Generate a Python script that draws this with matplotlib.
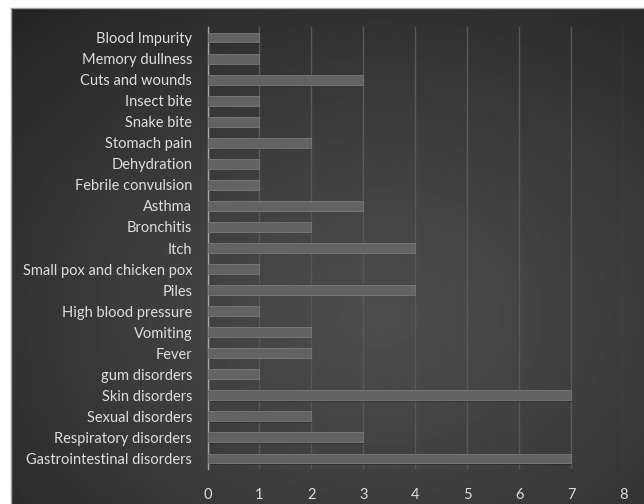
import numpy as np
import matplotlib
matplotlib.use("Agg")
import matplotlib.pyplot as plt

categories = ["Blood Impurity", "Memory dullness", "Cuts and wounds", "Insect bite",
              "Snake bite", "Stomach pain", "Dehydration", "Febrile convulsion",
              "Asthma", "Bronchitis", "Itch", "Small pox and chicken pox", "Piles",
              "High blood pressure", "Vomiting", "Fever", "gum disorders",
              "Skin disorders", "Sexual disorders", "Respiratory disorders",
              "Gastrointestinal disorders"]
values = [1, 1, 3, 1, 1, 2, 1, 1, 3, 2, 4, 1, 4, 1, 2, 2, 1, 7, 2, 3, 7]
xticks = [0, 1, 2, 3, 4, 5, 6, 7, 8]

W, H = 644, 504
fig = plt.figure(figsize=(W / 100, H / 100), dpi=100, facecolor="white")

# background panel with radial gradient
bg = fig.add_axes([11 / W, 0, (W - 11) / W, (H - 8) / H])
bg.set_axis_off()
ny, nx = 248, 316
yy, xx = np.mgrid[0:ny, 0:nx]
cx, cy = nx * 0.58, ny * 0.62
d = np.sqrt(((xx - cx) / nx) ** 2 + ((yy - cy) / ny) ** 2)
d = d / d.max()
val = 0.30 - 0.16 * d ** 1.2
bg.imshow(val, cmap="gray", vmin=0, vmax=1, aspect="auto", origin="upper",
          extent=[0, 1, 0, 1], interpolation="bilinear")
bg.set_xlim(0, 1)
bg.set_ylim(0, 1)
fig.add_artist(plt.Line2D([11 / W, 1], [(H - 8) / H, (H - 8) / H],
                          transform=fig.transFigure, color="#a0a0a0", lw=1))
fig.add_artist(plt.Line2D([11 / W, 11 / W], [0, (H - 8) / H],
                          transform=fig.transFigure, color="#a0a0a0", lw=1))

ax = fig.add_axes([207.5 / W, 1 - 469 / H, (623 - 207.5) / W, (469 - 27) / H])
ax.patch.set_alpha(0)
ypos = np.arange(len(categories))[::-1]
# shadow
ax.barh(ypos - 0.06, values, height=0.47, left=0.02, color="#202020", alpha=0.45, zorder=2)
ax.barh(ypos, values, height=0.47, color="#636363", edgecolor="#7a7a7a",
        linewidth=0.6, zorder=3)
ax.set_yticks(ypos)
ax.set_yticklabels(categories)
ax.set_ylim(-0.5, len(categories) - 0.5)
ax.set_xlim(0, 8)
ax.set_xticks(xticks)
ax.grid(axis="x", color="#585858", lw=1, zorder=1)
ax.set_axisbelow(True)
for s in ["top", "right", "bottom"]:
    ax.spines[s].set_visible(False)
ax.spines["left"].set_color("#a8a8a8")
ax.spines["left"].set_linewidth(1)
ax.tick_params(axis="both", length=0, colors="#dedede", labelsize=10.5)
ax.tick_params(axis="y", pad=11)
ax.tick_params(axis="x", pad=14)
for lab in ax.get_xticklabels() + ax.get_yticklabels():
    lab.set_fontfamily("Lato")

fig.savefig("out.png", dpi=100, facecolor="white")
